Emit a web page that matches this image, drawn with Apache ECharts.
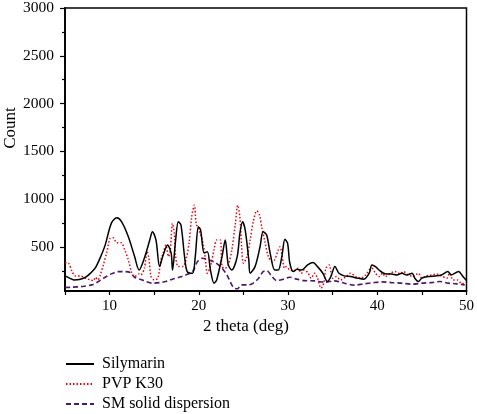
<!DOCTYPE html>
<html>
<head>
<meta charset="utf-8">
<script src="https://cdn.jsdelivr.net/npm/echarts@6/dist/echarts.min.js"></script>
<style>
html,body{margin:0;padding:0;background:#fff;}
#chart{width:477px;height:414px;}
</style>
</head>
<body>
<div id="chart"></div>
<script>
const seriesNames = ['Silymarin', 'PVP K30', 'SM solid dispersion'];

const silymarinTheta = [5.0,5.5,6.0,6.6,7.3,7.9,8.4,9.0,9.5,10.2,10.8,11.35,12.1,12.8,13.3,13.9,14.5,14.8,15.2,15.6,15.95,16.5,16.9,17.05,17.4,17.7,18.0,18.4,18.7,19.3,19.6,19.95,20.2,20.6,20.96,21.3,21.7,22.0,22.6,22.96,23.3,23.7,24.3,24.6,24.9,25.2,25.6,25.75,26.3,26.86,27.2,27.6,28.0,28.5,28.9,29.3,29.65,29.95,30.2,30.6,31.0,31.5,32.2,32.8,33.3,33.9,34.4,34.8,35.25,35.7,36.3,37.0,37.8,38.5,39.1,39.4,39.8,40.2,40.7,41.1,41.6,42.2,42.75,43.3,43.9,44.2,44.6,45.0,45.7,46.5,47.2,47.9,48.3,49.1,49.6,50.0];
const silymarinCount = [198,175,156,160,184,230,281,400,520,750,805,764,608,400,260,385,573,660,573,295,400,521,434,260,573,764,730,400,243,226,400,712,677,437,451,260,122,156,400,573,313,260,400,643,764,677,365,226,295,503,660,625,434,260,260,400,580,538,330,243,267,260,313,337,295,226,139,191,295,226,198,191,174,164,226,313,295,260,226,219,219,208,226,208,226,174,139,174,191,198,208,243,208,243,191,149];

const pvpTheta = [5.0,5.4,5.8,6.15,6.7,7.3,7.8,8.2,8.4,8.7,8.95,9.3,9.7,10.05,10.4,10.8,11.3,11.7,12.1,12.5,12.8,13.3,13.5,13.9,14.2,14.4,14.65,15.0,15.4,15.75,16.0,16.3,16.6,16.8,17.05,17.25,17.4,17.7,18.2,18.55,18.9,19.2,19.5,19.7,20.0,20.4,20.7,20.96,21.3,21.7,22.0,22.4,22.6,22.96,23.3,23.7,24.1,24.35,24.6,24.8,25.0,25.4,25.75,26.1,26.5,26.8,27.05,27.4,27.8,28.2,28.5,28.9,29.1,29.35,29.6,29.8,30.2,30.7,31.1,31.5,31.8,32.2,32.6,32.95,33.3,33.7,34.0,34.25,34.6,35.0,35.4,35.9,36.5,37.0,37.6,38.15,38.7,39.1,39.4,39.8,40.2,40.6,40.9,41.45,42.0,42.6,42.9,43.5,44.05,44.6,45.0,45.5,46.1,46.65,47.2,47.8,48.1,48.5,49.0,49.4,50.0];
const pvpCount = [337,330,243,198,198,174,156,149,184,156,208,313,451,590,597,545,545,469,365,226,191,219,208,278,451,382,191,156,174,365,434,521,400,469,747,643,400,295,295,365,538,816,938,747,677,573,400,226,295,469,573,573,295,278,313,469,747,938,816,503,330,400,573,764,878,834,712,556,400,347,365,469,503,400,278,295,260,250,278,226,260,233,174,226,174,70,122,278,313,174,191,156,191,226,191,174,208,260,278,226,191,226,191,226,243,219,243,208,191,226,174,198,208,219,198,174,226,156,156,122,115];

const smTheta = [5.0,5.8,6.9,8.0,8.75,9.5,10.2,11.0,11.7,12.3,12.8,13.4,14.1,14.8,15.6,16.3,17.05,17.8,18.55,19.3,19.85,20.4,21.15,21.9,22.6,23.15,23.5,23.9,24.3,24.8,25.6,26.1,26.7,27.2,27.6,28.2,28.7,29.5,30.2,30.95,31.8,32.95,34.1,35.2,36.3,37.4,38.5,39.6,40.6,41.6,42.75,43.9,45.0,46.1,47.0,47.95,48.9,49.8];
const smCount = [76,80,87,104,139,184,219,243,243,233,184,164,139,122,128,139,164,184,208,243,347,382,365,335,278,208,139,76,63,104,104,122,174,243,253,191,149,164,184,164,149,146,132,146,122,101,115,128,135,128,122,111,122,128,139,122,115,104];

const xTicks = [5,10,15,20,25,30,35,40,45,50];
const xLabels = [10,20,30,40,50];
const yLabels = [500,1000,1500,2000,2500,3000];
const yMinorTicks = [250,750,1250,1750,2250,2750];

function pairs(xs, ys){ return xs.map((x,i)=>[x, ys[i]]); }

const FONT = '"Liberation Serif", "Times New Roman", serif';
const chart = echarts.init(document.getElementById('chart'));
chart.setOption({
  animation: false,
  backgroundColor: '#fff',
  grid: {left: 65, right: 6.5, top: 7, bottom: 123, show: true, borderColor: '#000', borderWidth: 1.5},
  xAxis: {
    type: 'value', min: 5, max: 50,
    axisLine: {show: true, lineStyle: {color: '#000', width: 1.8}},
    axisTick: {show: true, customValues: xTicks, length: 4, lineStyle: {color: '#000', width: 1.2}},
    axisLabel: {customValues: xLabels, formatter: v => String(v), color: '#000', fontFamily: FONT, fontSize: 15, margin: 8},
    splitLine: {show: false}
  },
  yAxis: [{
    type: 'value', min: 40, max: 3000,
    axisLine: {show: true, lineStyle: {color: '#000', width: 1.8}},
    axisTick: {show: true, customValues: yLabels, length: 5, lineStyle: {color: '#000', width: 1.2}},
    axisLabel: {customValues: yLabels, formatter: v => String(v), color: '#000', fontFamily: FONT, fontSize: 15.5, margin: 11},
    splitLine: {show: false}
  }, {
    type: 'value', min: 40, max: 3000, position: 'left',
    axisLine: {show: false},
    axisTick: {show: true, customValues: yMinorTicks, length: 3, lineStyle: {color: '#000', width: 1.2}},
    axisLabel: {show: false},
    splitLine: {show: false}
  }],
  legend: {
    orient: 'vertical', left: 65, top: 356, padding: 0,
    itemWidth: 28, itemHeight: 14, itemGap: 4,
    itemStyle: {opacity: 0},
    textStyle: {color: '#000', fontFamily: FONT, fontSize: 16, padding: [0,0,0,3]},
    data: seriesNames
  },
  graphic: [
    {type: 'text', x: 10.5, y: 128, rotation: Math.PI/2,
     style: {text: 'Count', fill: '#000', font: '17px ' + FONT, align: 'center', verticalAlign: 'middle'}},
    {type: 'text', x: 246, y: 327,
     style: {text: '2 theta (deg)', fill: '#000', font: '17px ' + FONT, align: 'center', verticalAlign: 'middle'}}
  ],
  series: [
    {name: seriesNames[0], type: 'line', data: pairs(silymarinTheta, silymarinCount), smooth: 0.3, symbol: 'none',
     lineStyle: {color: '#000', width: 1.5, type: 'solid'}, itemStyle: {color: '#000'}, z: 3},
    {name: seriesNames[1], type: 'line', data: pairs(pvpTheta, pvpCount), smooth: 0.3, symbol: 'none',
     lineStyle: {color: '#e8000b', width: 1.5, type: [1.5, 2]}, itemStyle: {color: '#e8000b'}, z: 2},
    {name: seriesNames[2], type: 'line', data: pairs(smTheta, smCount), smooth: 0.3, symbol: 'none',
     lineStyle: {color: '#4b1870', width: 1.6, type: [5, 3]}, itemStyle: {color: '#4b1870'}, z: 1}
  ]
});
</script>
</body>
</html>
